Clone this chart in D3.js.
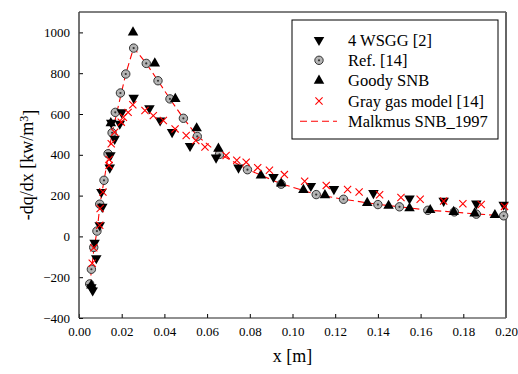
<!DOCTYPE html>
<html>
<head>
<meta charset="utf-8">
<script src="https://cdn.jsdelivr.net/npm/d3@7"></script>
</head>
<body style="margin:0">
<svg id="chart" width="518" height="374"></svg>
<script>
// Volumetric heat source -dq/dx along x for several radiation models
const wsggX = [0.0058,0.0064,0.0073,0.0081,0.0097,0.0105,0.0109,0.0144,0.0147,0.0151,0.0167,0.0191,0.0200,0.0256,0.0330,0.0380,0.0436,0.0520,0.0642,0.0747,0.0911,0.1086,0.1194,0.1379,0.1548,0.1708,0.1861,0.1989];
const wsggY = [-249,-265,-31,-107,55,218,145,337,397,557,478,552,608,679,628,568,511,443,386,337,291,247,232,212,186,174,161,155];

const refX = [0.0050,0.0058,0.0069,0.0084,0.0097,0.0117,0.0136,0.0155,0.0170,0.0194,0.0219,0.0256,0.0315,0.0370,0.0426,0.0489,0.0554,0.0658,0.0789,0.0947,0.1111,0.1239,0.1400,0.1501,0.1634,0.1758,0.1861,0.1989];
const refY = [-233,-161,-54,26,158,275,405,508,608,703,796,923,848,763,674,579,490,402,327,256,205,182,156,145,128,120,109,101];

const goodyX = [0.0058,0.0149,0.0253,0.0355,0.0451,0.0551,0.0653,0.0852,0.0947,0.1051,0.1152,0.1350,0.1450,0.1548,0.1645,0.1755,0.1853,0.1948];
const goodyY = [-240,555,1000,848,674,530,430,299,259,228,202,164,150,138,129,120,113,105];

const grayX = [0.0062,0.0069,0.0097,0.0099,0.0112,0.0141,0.0141,0.0151,0.0167,0.0198,0.0208,0.0230,0.0252,0.0309,0.0348,0.0395,0.0450,0.0502,0.0547,0.0590,0.0689,0.0739,0.0783,0.0837,0.0892,0.0962,0.1057,0.1158,0.1258,0.1312,0.1408,0.1508,0.1598,0.1708,0.1798,0.1884,0.1993];
const grayY = [-132,-56,55,137,218,348,377,454,511,560,584,608,645,617,592,568,527,495,470,438,397,373,364,337,324,303,270,250,230,218,204,191,182,173,160,156,147];

const malkX = [0.0050,0.0060,0.0070,0.0085,0.0100,0.0120,0.0140,0.0160,0.0180,0.0200,0.0220,0.0256,0.0315,0.0370,0.0426,0.0489,0.0554,0.0658,0.0789,0.0947,0.1111,0.1239,0.1400,0.1501,0.1634,0.1758,0.1861,0.2000];
const malkY = [-245,-150,-60,30,170,290,420,530,620,710,800,925,848,763,674,579,492,404,328,258,206,182,157,145,129,119,110,100];

const xTicks = [0,0.02,0.04,0.06,0.08,0.10,0.12,0.14,0.16,0.18,0.20];
const yTicks = [-400,-200,0,200,400,600,800,1000];

const legendLabels = ["4 WSGG [2]", "Ref. [14]", "Goody SNB", "Gray gas model [14]", "Malkmus SNB_1997"];

const FONT = "'Liberation Serif'";

const svg = d3.select("#chart");
const m = { left: 79, right: 506, top: 12, bottom: 318 };
const x = d3.scaleLinear().domain([0, 0.2]).range([m.left, m.right]);
const y = d3.scaleLinear().domain([-400, 1100]).range([m.bottom, m.top]);
const RED = "#ff0000";

// axes with inward ticks
const xAxis = d3.axisBottom(x).tickValues(xTicks).tickFormat(d3.format(".2f")).tickSizeInner(-4).tickSizeOuter(0).tickPadding(9);
const yAxis = d3.axisLeft(y).tickValues(yTicks).tickFormat(d3.format("d")).tickSizeInner(-4).tickSizeOuter(0).tickPadding(9);
const gx = svg.append("g").attr("transform", `translate(0,${m.bottom})`).call(xAxis);
const gy = svg.append("g").attr("transform", `translate(${m.left},0)`).call(yAxis);
[gx, gy].forEach(g => {
  g.attr("font-family", null).attr("font-size", null);
  g.select(".domain").remove();
  g.selectAll(".tick line").attr("stroke", "#000").attr("stroke-width", 1);
  g.selectAll(".tick text").attr("fill", "#000").style("font-family", FONT).style("font-size", "13px");
});

// plot frame
svg.append("line").attr("x1", m.left).attr("x2", m.right).attr("y1", m.top).attr("y2", m.top).attr("stroke", "#000");
svg.append("line").attr("x1", m.left).attr("x2", m.right).attr("y1", m.bottom).attr("y2", m.bottom).attr("stroke", "#222").attr("stroke-width", 1.2);
svg.append("line").attr("x1", m.left).attr("x2", m.left).attr("y1", m.top).attr("y2", m.bottom).attr("stroke", "#444").attr("stroke-width", 1.5);
svg.append("line").attr("x1", m.right).attr("x2", m.right).attr("y1", m.top).attr("y2", m.bottom).attr("stroke", "#666").attr("stroke-width", 2);

// marker painters
const tri = d3.symbol().type(d3.symbolTriangle).size(48);
function drawTriDown(g, cx, cy) { g.append("path").attr("d", tri()).attr("transform", `translate(${cx},${cy}) rotate(180)`).attr("fill", "#000"); }
function drawTriUp(g, cx, cy) { g.append("path").attr("d", tri()).attr("transform", `translate(${cx},${cy})`).attr("fill", "#000"); }
function drawCircle(g, cx, cy) {
  g.append("circle").attr("cx", cx).attr("cy", cy).attr("r", 4.2).attr("fill", "#b4b4b4").attr("stroke", "#333");
  g.append("circle").attr("cx", cx).attr("cy", cy).attr("r", 1.1).attr("fill", "#333");
}
function drawCross(g, cx, cy) {
  const s = 3.6;
  g.append("path").attr("d", `M${cx - s},${cy - s}L${cx + s},${cy + s}M${cx - s},${cy + s}L${cx + s},${cy - s}`)
    .attr("stroke", RED).attr("stroke-width", 1.1).attr("fill", "none");
}

const plot = svg.append("g");

// Malkmus SNB line
const line = d3.line().x(d => x(d[0])).y(d => y(d[1]));
plot.append("path").datum(d3.zip(malkX, malkY)).attr("d", line)
  .attr("fill", "none").attr("stroke", RED).attr("stroke-width", 1.1).attr("stroke-dasharray", "7,4");

d3.zip(refX, refY).forEach(d => drawCircle(plot, x(d[0]), y(d[1])));
d3.zip(wsggX, wsggY).forEach(d => drawTriDown(plot, x(d[0]), y(d[1])));
d3.zip(goodyX, goodyY).forEach(d => drawTriUp(plot, x(d[0]), y(d[1])));
d3.zip(grayX, grayY).forEach(d => drawCross(plot, x(d[0]), y(d[1])));

// legend
const lg = svg.append("g");
lg.append("rect").attr("x", 292).attr("y", 20).attr("width", 206).attr("height", 119)
  .attr("fill", "#fff").attr("stroke", "#000");
const rowsY = [40, 60.3, 80.6, 101, 121.3];
drawTriDown(lg, 319, rowsY[0]);
drawCircle(lg, 319, rowsY[1]);
drawTriUp(lg, 319, rowsY[2]);
drawCross(lg, 319, rowsY[3]);
lg.append("line").attr("x1", 300).attr("x2", 337).attr("y1", rowsY[4]).attr("y2", rowsY[4])
  .attr("stroke", RED).attr("stroke-width", 1.1).attr("stroke-dasharray", "7,4");
legendLabels.forEach((t, i) => {
  lg.append("text").attr("x", 348).attr("y", rowsY[i]).attr("dy", "0.35em")
    .style("font-family", FONT).style("font-size", "16.5px").text(t);
});

// axis titles
svg.append("text").attr("x", (m.left + m.right) / 2).attr("y", 362).attr("text-anchor", "middle")
  .style("font-family", FONT).style("font-size", "18px").text("x [m]");
const yt = svg.append("text").attr("transform", `translate(33,${(m.top + m.bottom) / 2}) rotate(-90)`)
  .attr("text-anchor", "middle").style("font-family", FONT).style("font-size", "18px");
yt.append("tspan").text("-dq/dx [kw/m");
yt.append("tspan").attr("dy", "-0.45em").style("font-size", "12px").text("3");
yt.append("tspan").attr("dy", "0.45em").text("]");
</script>
</body>
</html>
